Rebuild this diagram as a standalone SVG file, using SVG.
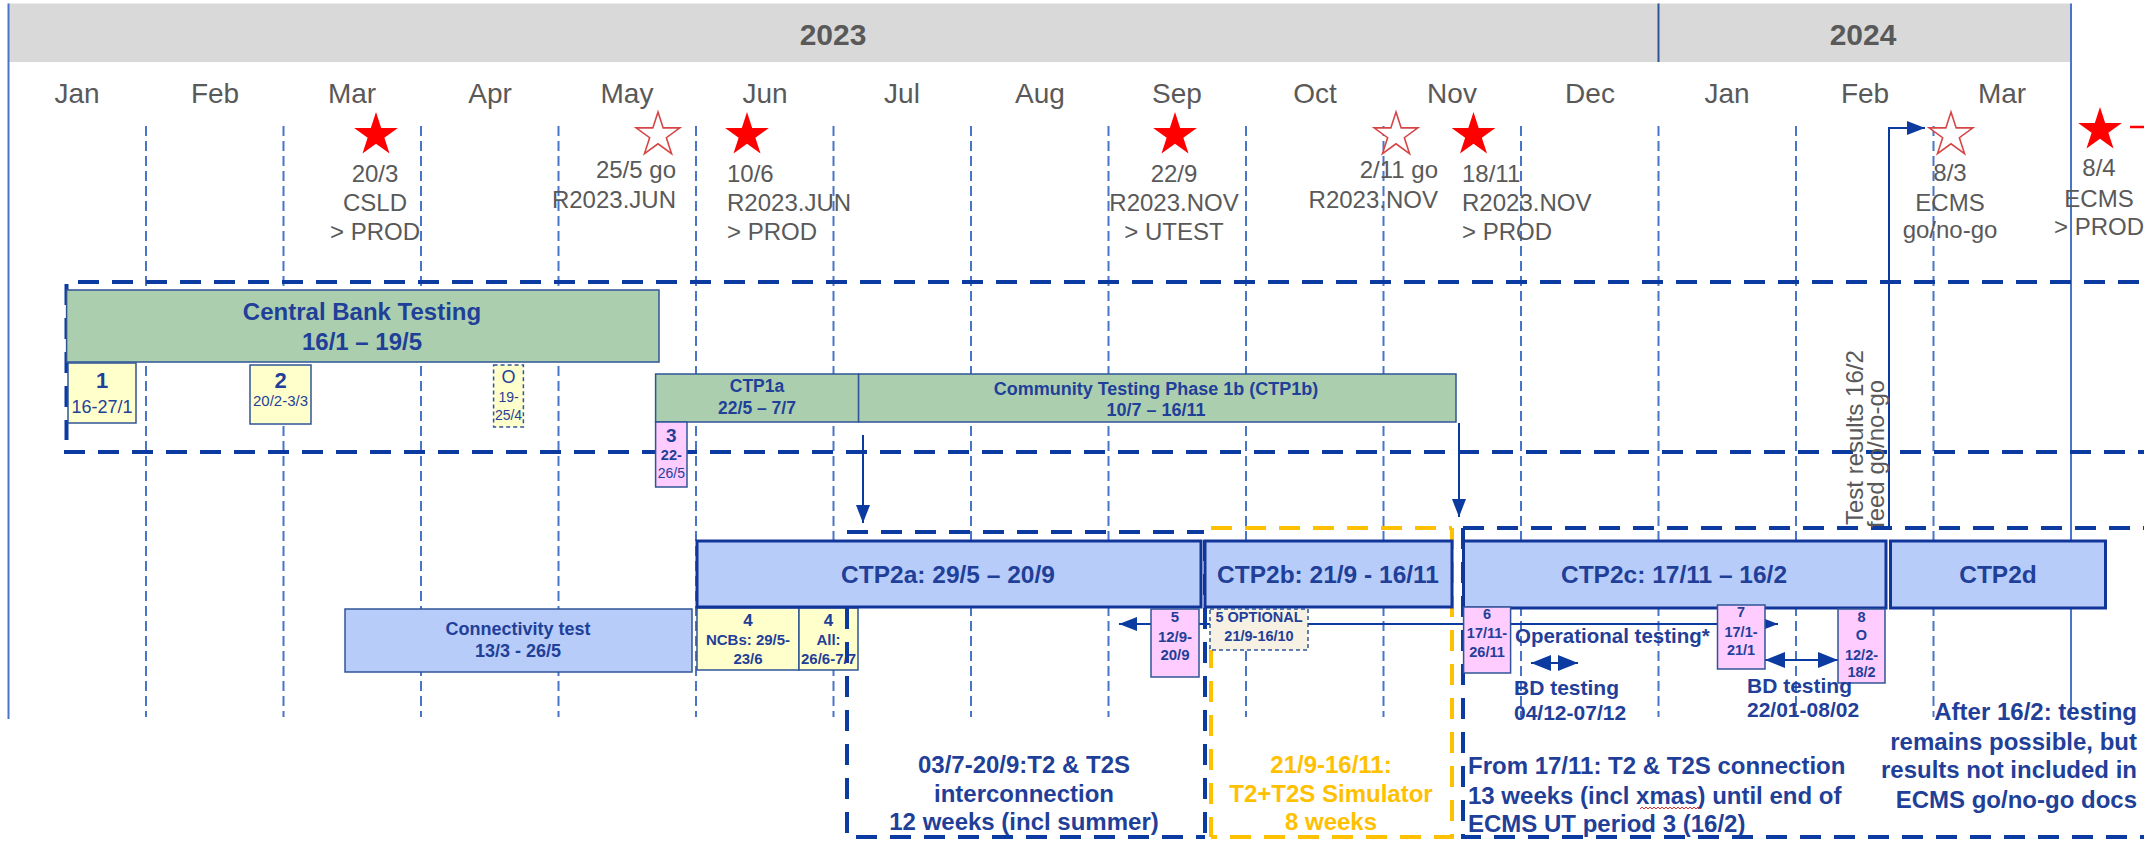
<svg xmlns="http://www.w3.org/2000/svg" width="2144" height="842" viewBox="0 0 2144 842">
<style>
text{font-family:"Liberation Sans",Arial,sans-serif}
.mon{font-size:28px;fill:#595959;text-anchor:middle}
.yr{font-size:30px;font-weight:bold;fill:#595959;text-anchor:middle}
.lbl{font-size:24px;fill:#595959}
.mid{text-anchor:middle}
.end{text-anchor:end}
.grid{stroke:#4a74c8;stroke-width:2;stroke-dasharray:10 5;fill:none}
.solid{stroke:#4a74c8;stroke-width:2;fill:none}
.frame{stroke:#0b3aa0;stroke-width:4;stroke-dasharray:21 13;fill:none}
.yframe{stroke:#ffc000;stroke-width:4;stroke-dasharray:21 13;fill:none}
.green{fill:#abcfae;stroke:#2f5597;stroke-width:1.5}
.lblue{fill:#b7ccf8;stroke:#2f5597;stroke-width:1.5}
.big{fill:#b7ccf8;stroke:#12359a;stroke-width:3}
.yel{fill:#ffffcc;stroke:#2f5597;stroke-width:1.5}
.pink{fill:#ffccff;stroke:#2f5597;stroke-width:1.5}
.bt{fill:#1f3f99;font-weight:bold;text-anchor:middle}
.nt{fill:#1f3f99;text-anchor:middle}
.conn{stroke:#0b3aa0;stroke-width:2;fill:none}
.sf{fill:#ff0000}
.so{fill:#ffffff;stroke:#d64545;stroke-width:1.6}
</style>
<defs>
<path id="star" d="M0,-23 L5.17,-7.11 L21.87,-7.11 L8.36,2.72 L13.52,18.61 L0,8.79 L-13.52,18.61 L-8.36,2.72 L-21.87,-7.11 L-5.17,-7.11 Z"/>
<marker id="ah" viewBox="0 0 20 16" refX="20" refY="8" markerWidth="20" markerHeight="16" markerUnits="userSpaceOnUse" orient="auto-start-reverse"><path d="M0,0 L20,8 L0,16 Z" fill="#0b3aa0"/></marker>
<marker id="ahs" viewBox="0 0 18 14" refX="18" refY="7" markerWidth="18" markerHeight="14" markerUnits="userSpaceOnUse" orient="auto-start-reverse"><path d="M0,0 L18,7 L0,14 Z" fill="#0b3aa0"/></marker>
</defs>
<rect width="2144" height="842" fill="#ffffff"/>

<g id="header">
<rect x="8.5" y="3.5" width="2062.5" height="58.5" fill="#d9d9d9"/>
<line x1="1658.5" y1="3.5" x2="1658.5" y2="62" stroke="#2f5597" stroke-width="2"/>
<text class="yr" x="833" y="45">2023</text>
<text class="yr" x="1863" y="45">2024</text>
</g>

<g id="months">
<text class="mon" x="77" y="103">Jan</text>
<text class="mon" x="215" y="103">Feb</text>
<text class="mon" x="352" y="103">Mar</text>
<text class="mon" x="490" y="103">Apr</text>
<text class="mon" x="627" y="103">May</text>
<text class="mon" x="765" y="103">Jun</text>
<text class="mon" x="902" y="103">Jul</text>
<text class="mon" x="1040" y="103">Aug</text>
<text class="mon" x="1177" y="103">Sep</text>
<text class="mon" x="1315" y="103">Oct</text>
<text class="mon" x="1452" y="103">Nov</text>
<text class="mon" x="1590" y="103">Dec</text>
<text class="mon" x="1727" y="103">Jan</text>
<text class="mon" x="1865" y="103">Feb</text>
<text class="mon" x="2002" y="103">Mar</text>
</g>

<g id="grid">
<line class="solid" x1="8.5" y1="3.5" x2="8.5" y2="719"/>
<line class="solid" x1="2071" y1="3.5" x2="2071" y2="712" stroke-width="1.6"/>
<path class="grid" d="M146,126V717 M283.5,126V717 M421,126V717 M558.5,126V717 M696,126V717 M833.5,126V717 M971,126V717 M1108.5,126V717 M1246,126V717 M1383.5,126V717 M1521,126V717 M1658.5,126V717 M1796,126V717 M1933.5,126V717"/>
</g>

<g id="milestones">
<use href="#star" x="376" y="135" class="sf"/>
<text class="lbl mid" x="375" y="182">20/3</text>
<text class="lbl mid" x="375" y="211">CSLD</text>
<text class="lbl mid" x="375" y="240">&gt; PROD</text>
<use href="#star" x="658" y="135" class="so"/>
<text class="lbl end" x="676" y="178">25/5 go</text>
<text class="lbl end" x="676" y="208">R2023.JUN</text>
<use href="#star" x="747" y="135" class="sf"/>
<text class="lbl" x="727" y="182">10/6</text>
<text class="lbl" x="727" y="211">R2023.JUN</text>
<text class="lbl" x="727" y="240">&gt; PROD</text>
<use href="#star" x="1175" y="135" class="sf"/>
<text class="lbl mid" x="1174" y="182">22/9</text>
<text class="lbl mid" x="1174" y="211">R2023.NOV</text>
<text class="lbl mid" x="1174" y="240">&gt; UTEST</text>
<use href="#star" x="1396" y="135" class="so"/>
<text class="lbl end" x="1438" y="178">2/11 go</text>
<text class="lbl end" x="1438" y="208">R2023.NOV</text>
<use href="#star" x="1473.5" y="135" class="sf"/>
<text class="lbl" x="1462" y="182">18/11</text>
<text class="lbl" x="1462" y="211">R2023.NOV</text>
<text class="lbl" x="1462" y="240">&gt; PROD</text>
<use href="#star" x="1951" y="135" class="so"/>
<text class="lbl mid" x="1950" y="181">8/3</text>
<text class="lbl mid" x="1950" y="211">ECMS</text>
<text class="lbl mid" x="1950" y="238">go/no-go</text>
<use href="#star" x="2100" y="130" class="sf"/>
<line x1="2130" y1="127" x2="2144" y2="127" stroke="#ff0000" stroke-width="2.5"/>
<text class="lbl mid" x="2099" y="176">8/4</text>
<text class="lbl mid" x="2099" y="207">ECMS</text>
<text class="lbl mid" x="2099" y="235">&gt; PROD</text>
</g>

<g id="frames">
<path class="frame" d="M78,282H2144"/>
<path class="frame" d="M64,452H2144"/>
<path class="frame" d="M66.5,284V440"/>
</g>

<g id="central-bank-testing">
<rect class="green" x="66.6" y="290" width="592.4" height="72"/>
<text class="bt" x="362" y="320" font-size="24">Central Bank Testing</text>
<text class="bt" x="362" y="350" font-size="24">16/1 – 19/5</text>
</g>
<g id="cb1">
<rect class="yel" x="68" y="363" width="68" height="60"/>
<text class="bt" x="102" y="388" font-size="22">1</text>
<text class="nt" x="102" y="413" font-size="18">16-27/1</text>
</g>
<g id="cb2">
<rect class="yel" x="250" y="365" width="61" height="59"/>
<text class="bt" x="280.5" y="388" font-size="22">2</text>
<text class="nt" x="280.5" y="406" font-size="15">20/2-3/3</text>
</g>
<g id="cbO">
<rect class="yel" x="493.6" y="365" width="29.8" height="62" stroke-dasharray="4 3"/>
<text class="nt" x="508.5" y="383" font-size="18">O</text>
<text class="nt" x="508.5" y="402" font-size="14">19-</text>
<text class="nt" x="508.5" y="420" font-size="14">25/4</text>
</g>
<g id="ctp1a">
<rect class="green" x="655.6" y="374" width="203" height="48"/>
<text class="bt" x="757" y="392" font-size="17.5">CTP1a</text>
<text class="bt" x="757" y="414" font-size="17.5">22/5 – 7/7</text>
</g>
<g id="ctp1b">
<rect class="green" x="858.6" y="374" width="597.4" height="48"/>
<text class="bt" x="1156" y="395" font-size="18">Community Testing Phase 1b (CTP1b)</text>
<text class="bt" x="1156" y="416" font-size="18">10/7 – 16/11</text>
</g>
<g id="cb3">
<rect class="pink" x="655.6" y="422" width="31.4" height="65"/>
<text class="bt" x="671.3" y="442" font-size="19">3</text>
<text class="bt" x="671.3" y="460" font-size="14.5">22-</text>
<text class="nt" x="671.3" y="478" font-size="14">26/5</text>
</g>

<g id="connectivity-test">
<rect class="lblue" x="345" y="609" width="347" height="63"/>
<text class="bt" x="518" y="635" font-size="18">Connectivity test</text>
<text class="bt" x="518" y="657" font-size="18">13/3 - 26/5</text>
</g>
<g id="cb4-ncbs">
<rect class="yel" x="697" y="608" width="102" height="62"/>
<text class="bt" x="748" y="626" font-size="17">4</text>
<text class="bt" x="748" y="645" font-size="15">NCBs: 29/5-</text>
<text class="bt" x="748" y="664" font-size="15">23/6</text>
</g>
<g id="cb4-all">
<rect class="yel" x="799" y="608" width="59" height="62"/>
<text class="bt" x="828.5" y="626" font-size="17">4</text>
<text class="bt" x="828.5" y="645" font-size="15">All:</text>
<text class="bt" x="828.5" y="664" font-size="15">26/6-7/7</text>
</g>

<g id="frames2">
<path class="frame" d="M847,532H1204 M847,540V837H1205 M1205,540V837"/>
<path class="yframe" d="M1211,528H1452 M1452,528V837H1211 M1211,647V837"/>
<path class="frame" d="M1463,528H2144 M1463,528V837H2144"/>
</g>

<g id="connectors">
<line class="conn" x1="863" y1="435" x2="863" y2="523" marker-end="url(#ahs)"/>
<line class="conn" x1="1459" y1="423" x2="1459" y2="517" marker-end="url(#ahs)"/>
<path class="conn" d="M1889,528V128H1925" stroke-width="2.5" marker-end="url(#ahs)"/>
<line class="conn" x1="1119" y1="624" x2="1778" y2="624" stroke-width="1.6" marker-start="url(#ahs)" marker-end="url(#ahs)"/>
<line class="conn" x1="1531" y1="663" x2="1578" y2="663" marker-start="url(#ah)" marker-end="url(#ah)"/>
<line class="conn" x1="1765" y1="660" x2="1838" y2="660" marker-start="url(#ah)" marker-end="url(#ah)"/>
</g>

<g id="test-results-note">
<text class="lbl" font-size="21" transform="translate(1863,525) rotate(-90)">Test results 16/2</text>
<text class="lbl" font-size="21" transform="translate(1884,528) rotate(-90)">feed go/no-go</text>
</g>

<g id="ctp2a">
<rect class="big" x="697" y="541" width="504" height="66"/>
<text class="bt" x="948" y="583" font-size="24.5">CTP2a: 29/5 – 20/9</text>
</g>
<g id="ctp2b">
<rect class="big" x="1205" y="541" width="247" height="66"/>
<text class="bt" x="1328" y="583" font-size="24.5">CTP2b: 21/9 - 16/11</text>
</g>
<g id="ctp2c">
<rect class="big" x="1463.5" y="541" width="422.5" height="67"/>
<text class="bt" x="1674" y="583" font-size="24.5">CTP2c: 17/11 – 16/2</text>
</g>
<g id="ctp2d">
<rect class="big" x="1890.5" y="541" width="215" height="67"/>
<text class="bt" x="1998" y="583" font-size="24.5">CTP2d</text>
</g>

<g id="cb5">
<rect class="pink" x="1151" y="609" width="48" height="68"/>
<text class="bt" x="1175" y="622" font-size="15">5</text>
<text class="bt" x="1175" y="642" font-size="15">12/9-</text>
<text class="bt" x="1175" y="660" font-size="15">20/9</text>
</g>
<g id="cb5-optional">
<rect x="1210" y="609" width="98" height="41" fill="#f7f1e3" stroke="#2f5597" stroke-width="1.5" stroke-dasharray="4 3"/>
<text class="bt" x="1259" y="622" font-size="14.5">5 OPTIONAL</text>
<text class="bt" x="1259" y="641" font-size="14.5">21/9-16/10</text>
</g>
<g id="cb6">
<rect class="pink" x="1463.6" y="607" width="47" height="66"/>
<text class="bt" x="1487" y="619" font-size="14.5">6</text>
<text class="bt" x="1487" y="638" font-size="14.5">17/11-</text>
<text class="bt" x="1487" y="657" font-size="14.5">26/11</text>
</g>
<g id="cb7">
<rect class="pink" x="1717.5" y="605" width="47.5" height="64"/>
<text class="bt" x="1741" y="617" font-size="14.5">7</text>
<text class="bt" x="1741" y="637" font-size="14.5">17/1-</text>
<text class="bt" x="1741" y="655" font-size="14.5">21/1</text>
</g>
<g id="cb8">
<rect class="pink" x="1838" y="609" width="47" height="74"/>
<text class="bt" x="1861.5" y="622" font-size="14.5">8</text>
<text class="bt" x="1861.5" y="640" font-size="14.5">O</text>
<text class="bt" x="1861.5" y="660" font-size="14.5">12/2-</text>
<text class="bt" x="1861.5" y="677" font-size="14.5">18/2</text>
</g>

<g id="notes">
<text x="1515" y="643" font-size="20.5" font-weight="bold" fill="#1f3f99">Operational testing*</text>
<text x="1514" y="695" font-size="21" font-weight="bold" fill="#1f3f99">BD testing</text>
<text x="1514" y="720" font-size="21" font-weight="bold" fill="#1f3f99">04/12-07/12</text>
<text x="1747" y="693" font-size="21" font-weight="bold" fill="#1f3f99">BD testing</text>
<text x="1747" y="717" font-size="21" font-weight="bold" fill="#1f3f99">22/01-08/02</text>
<text class="bt" x="1024" y="773" font-size="24">03/7-20/9:T2 &amp; T2S</text>
<text class="bt" x="1024" y="802" font-size="24">interconnection</text>
<text class="bt" x="1024" y="830" font-size="24">12 weeks (incl summer)</text>
<text class="bt" x="1331" y="773" font-size="24" fill="#ffc000" style="fill:#ffc000">21/9-16/11:</text>
<text class="bt" x="1331" y="802" font-size="24" style="fill:#ffc000">T2+T2S Simulator</text>
<text class="bt" x="1331" y="830" font-size="24" style="fill:#ffc000">8 weeks</text>
<text x="1468" y="774" font-size="24" font-weight="bold" fill="#1f3f99">From 17/11: T2 &amp; T2S connection</text>
<text x="1468" y="804" font-size="24" font-weight="bold" fill="#1f3f99">13 weeks (incl xmas) until end of</text>
<text x="1468" y="832" font-size="24" font-weight="bold" fill="#1f3f99">ECMS UT period 3 (16/2)</text>
<path d="M1640,809 l2,-2 l2,2 l2,-2 l2,2 l2,-2 l2,2 l2,-2 l2,2 l2,-2 l2,2 l2,-2 l2,2 l2,-2 l2,2 l2,-2 l2,2 l2,-2 l2,2 l2,-2 l2,2 l2,-2 l2,2 l2,-2 l2,2 l2,-2 l2,2 l2,-2 l2,2 l2,-2 l2,2 l2,-2" fill="none" stroke="#e03030" stroke-width="1"/>
<text class="end" x="2137" y="720" font-size="24" font-weight="bold" fill="#1f3f99">After 16/2: testing</text>
<text class="end" x="2137" y="750" font-size="24" font-weight="bold" fill="#1f3f99">remains possible, but</text>
<text class="end" x="2137" y="778" font-size="24" font-weight="bold" fill="#1f3f99">results not included in</text>
<text class="end" x="2137" y="808" font-size="24" font-weight="bold" fill="#1f3f99">ECMS go/no-go docs</text>
</g>
</svg>
